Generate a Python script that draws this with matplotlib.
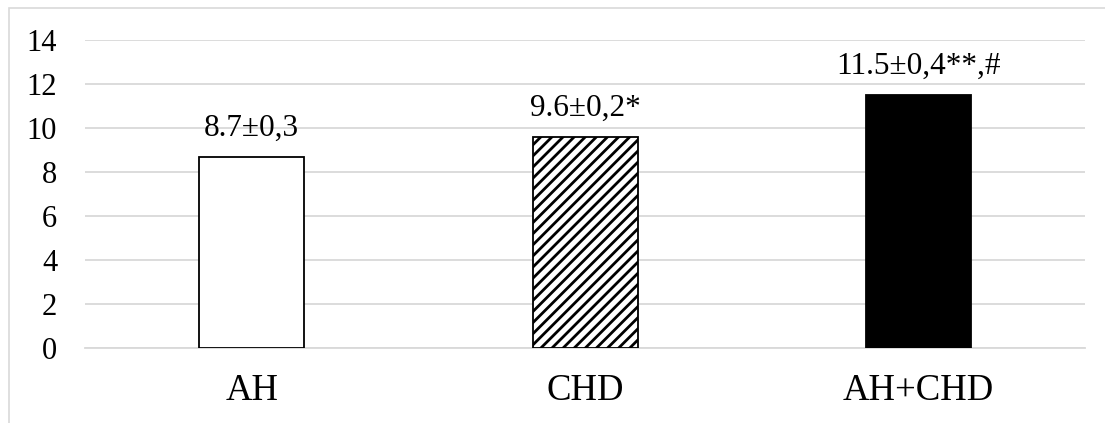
import matplotlib
matplotlib.use("Agg")
import matplotlib.pyplot as plt
from matplotlib.patches import Rectangle

plt.rcParams['font.family'] = ['Liberation Serif', 'DejaVu Serif']
plt.rcParams['hatch.linewidth'] = 2.0

groups = ['AH', 'CHD', 'AH+CHD']
values = [8.7, 9.6, 11.5]
labels = ['8.7±0,3', '9.6±0,2*', '11.5±0,4**,#']
yticks = [0, 2, 4, 6, 8, 10, 12, 14]

fig = plt.figure(figsize=(11.05, 4.23), dpi=100)
ax = fig.add_axes([85 / 1105, 1 - 348 / 423, 1000 / 1105, 308 / 423])

# outer chart frame (clipped on right/bottom like the source)
fig.patches.append(Rectangle((8.5 / 1105, -0.1), 1.2, 1.1 - 8.5 / 423,
                             transform=fig.transFigure, fill=False,
                             edgecolor='#d9d9d9', linewidth=1.2, clip_on=False))

styles = [dict(color='white', hatch=None),
          dict(color='white', hatch='///'),
          dict(color='black', hatch=None)]
x = range(len(groups))
for i, (v, st) in enumerate(zip(values, styles)):
    ax.bar(i, v, width=0.315, color=st['color'], edgecolor='black',
           linewidth=1.3, hatch=st['hatch'], zorder=3)
    ax.annotate(labels[i], (i, v), xytext=(0, 10), textcoords='offset points',
                ha='center', va='bottom', fontsize=22.5)

ax.set_xlim(-0.5, 2.5)
ax.set_ylim(0, 14)
ax.set_yticks(yticks)
ax.set_xticks(list(x))
ax.set_xticklabels(groups, fontsize=26.5)
ax.tick_params(axis='y', length=0, pad=20, labelsize=22)
ax.tick_params(axis='x', length=0, pad=18)
ax.grid(axis='y', color='#d9d9d9', linewidth=1.3, zorder=0)
for s in ['top', 'right', 'left']:
    ax.spines[s].set_visible(False)
ax.spines['bottom'].set_color('#d9d9d9')
ax.spines['bottom'].set_linewidth(1.3)

fig.savefig('out.png', dpi=100)
